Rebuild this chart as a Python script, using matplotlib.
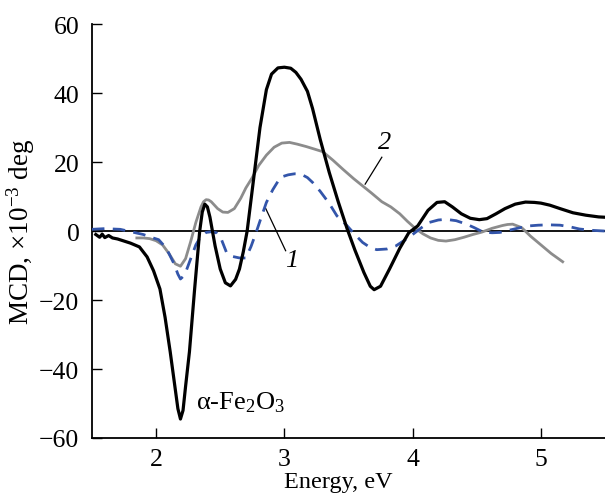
import numpy as np
import matplotlib
matplotlib.use("Agg")
import matplotlib.pyplot as plt

plt.rcParams['font.family'] = ['Liberation Serif', 'DejaVu Serif']
plt.rcParams['mathtext.fontset'] = 'custom'
plt.rcParams['mathtext.rm'] = 'Liberation Serif'
plt.rcParams['mathtext.it'] = 'Liberation Serif:italic'

### data ###

# curve "alpha-Fe2O3" (black, solid)
fe_x = [1.53, 1.56, 1.58, 1.60, 1.63, 1.66, 1.70, 1.75, 1.80, 1.87, 1.93, 1.98,
        2.03, 2.07, 2.11, 2.15, 2.17, 2.19, 2.21, 2.23, 2.26, 2.30, 2.34, 2.36,
        2.38, 2.40, 2.42, 2.46, 2.50, 2.54, 2.58, 2.62, 2.65, 2.68, 2.71, 2.76,
        2.81, 2.86, 2.90, 2.95, 3.00, 3.05, 3.09, 3.13, 3.18, 3.22, 3.28, 3.35,
        3.42, 3.49, 3.55, 3.62, 3.67, 3.70, 3.75, 3.82, 3.90, 3.97, 4.04, 4.12,
        4.19, 4.25, 4.31, 4.38, 4.45, 4.52, 4.58, 4.65, 4.72, 4.80, 4.88, 4.95,
        5.00, 5.07, 5.15, 5.25, 5.35, 5.45, 5.50]
fe_y = [-1.0, -1.8, -0.9, -1.9, -1.3, -2.0, -2.3, -2.9, -3.5, -4.6, -7.5, -11.5,
        -16.8, -25, -35, -46, -51.5, -54.5, -52, -45, -35, -17, 0, 5.5,
        7.8, 7, 4, -4.3, -11, -15, -15.9, -14, -11, -6, 0, 15,
        30, 41, 45.5, 47.3, 47.5, 47.2, 46, 44, 40.5, 35.5, 26.5, 17,
        8.5, 0.6, -5.5, -12, -16, -17, -16, -11, -5, -0.5, 1.5, 6,
        8.3, 8.5, 7, 5, 3.7, 3.3, 3.6, 5, 6.5, 7.8, 8.4, 8.3,
        8.1, 7.5, 6.5, 5.3, 4.6, 4.1, 4.0]

# curve 2 (grey)
c2_x = [1.85, 1.90, 1.95, 2.00, 2.05, 2.10, 2.15, 2.19, 2.23, 2.27, 2.31, 2.35,
        2.37, 2.39, 2.41, 2.43, 2.48, 2.52, 2.56, 2.61, 2.66, 2.70, 2.75, 2.80,
        2.86, 2.92, 2.98, 3.04, 3.10, 3.17, 3.24, 3.30, 3.38, 3.46, 3.54, 3.61,
        3.68, 3.76, 3.83, 3.90, 3.96, 4.02, 4.08, 4.14, 4.20, 4.26, 4.33, 4.40,
        4.47, 4.54, 4.62, 4.70, 4.74, 4.78, 4.85, 4.92, 5.00, 5.08, 5.17]
c2_y = [-2.0, -2.0, -2.2, -2.8, -4, -6.5, -9.5, -10.2, -8, -3, 2.5, 7,
        8.5, 9.1, 9.0, 8.5, 6.5, 5.5, 5.4, 6.5, 9.5, 12.5, 15.5, 19,
        22, 24.3, 25.5, 25.7, 25.2, 24.5, 23.7, 23.0, 20.5, 17.8, 15.2, 13.1,
        11, 8.5, 7, 5, 2.8, 0.8, -0.8, -2.0, -2.7, -2.9, -2.5, -1.8,
        -1.0, -0.3, 0.8, 1.6, 1.9, 2.0, 1.0, -1.5, -4, -6.5, -8.9]

# curve 1 (blue, dashed)
c1_x = [1.50, 1.55, 1.60, 1.66, 1.72, 1.78, 1.84, 1.90, 1.96, 2.02, 2.08, 2.14,
        2.17, 2.19, 2.21, 2.23, 2.27, 2.31, 2.35, 2.39, 2.43, 2.47, 2.51, 2.55,
        2.60, 2.65, 2.70, 2.74, 2.78, 2.82, 2.86, 2.91, 2.97, 3.03, 3.08, 3.13,
        3.18, 3.22, 3.28, 3.35, 3.41, 3.49, 3.55, 3.61, 3.67, 3.72, 3.80, 3.87,
        3.94, 4.00, 4.07, 4.13, 4.20, 4.26, 4.34, 4.42, 4.48, 4.55, 4.62, 4.68,
        4.76, 4.84, 4.91, 4.98, 5.06, 5.15, 5.23, 5.30, 5.40, 5.50]
c1_y = [0.5, 0.6, 0.7, 0.6, 0.5, 0, -0.5, -1, -1.8, -2.5, -5, -9.5,
        -12.5, -13.9, -13.2, -12, -8, -4, -1.5, -0.4, -0.2, -0.5, -2.5, -6.3,
        -7.4, -7.8, -7.8, -4.5, -0.4, 4, 8.3, 12, 15.6, 16.3, 16.6, 16.5,
        15.5, 14.1, 11.5, 8, 4.4, 1.5, -1, -3.3, -4.8, -5.4, -5.2, -4.3,
        -2.6, -1.0, 1.0, 2.5, 3.2, 3.4, 3.0, 2.0, 1.0, -0.3, -0.5, -0.4,
        0.3, 1.0, 1.5, 1.7, 1.8, 1.7, 1.2, 0.6, 0.2, 0.0]

### plot ###

fig = plt.figure(figsize=(6.05, 5.02), dpi=100)
ax = fig.add_axes([0.152, 0.1255, 0.848, 0.8245])

ax.axhline(0, color='black', lw=1.3, zorder=1)
ax.plot(c2_x, c2_y, color='#8c8c8c', lw=2.0, zorder=2, solid_joinstyle='round')
ax.plot(c1_x, c1_y, color='#3355aa', lw=2.0, dashes=(4.5, 3.0), zorder=3)
ax.plot(fe_x, fe_y, color='black', lw=2.3, zorder=4, solid_joinstyle='round')

# labels on curves
ax.text(3.78, 25.7, '2', fontsize=19, style='italic', ha='center', va='center')
ax.plot([3.76, 3.63], [21.4, 13.6], color='black', lw=0.9)
ax.text(3.06, -8.3, '1', fontsize=19, style='italic', ha='center', va='center')
ax.plot([2.85, 3.01], [6.9, -5.7], color='black', lw=0.9)
ax.text(2.31, -49.5, r'α-Fe$_2$O$_3$', fontsize=19, ha='left', va='center')

ax.set_xlim(1.5, 5.5)
ax.set_ylim(-60, 60)
ax.set_xticks([2, 3, 4, 5])
ax.set_yticks([-60, -40, -20, 0, 20, 40, 60])
ax.tick_params(direction='in', length=7, width=1.0, labelsize=18.5, pad=9)
ax.tick_params(axis='x', pad=7)
ax.spines['top'].set_visible(False)
ax.spines['right'].set_visible(False)
for s in ('left', 'bottom'):
    ax.spines[s].set_linewidth(1.3)

ax.set_xlabel('Energy, eV', fontsize=17.5)
ax.set_ylabel(r'MCD, ×10$^{-3}$ deg', fontsize=19.5)
ax.xaxis.set_label_coords(0.48, -0.08)
ax.yaxis.set_label_coords(-0.108, 0.5)

fig.savefig('out.png', dpi=100)
